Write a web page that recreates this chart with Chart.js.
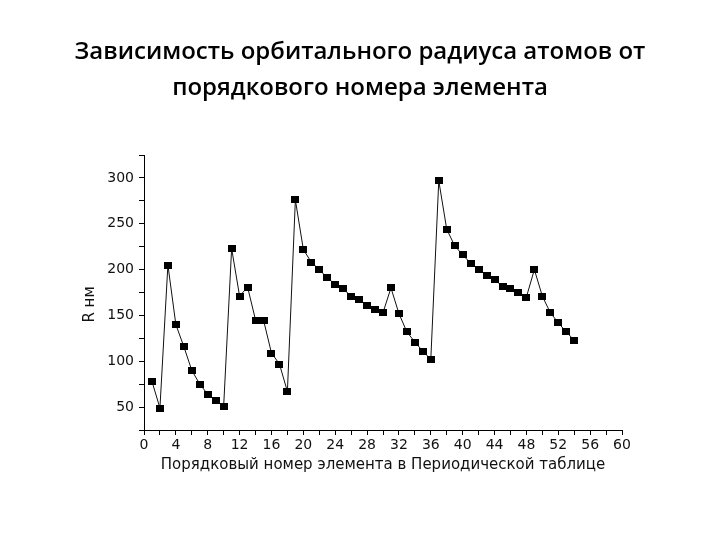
<!DOCTYPE html>
<html>
<head>
<meta charset="utf-8">
<script src="https://cdn.jsdelivr.net/npm/chart.js@4"></script>
<style>
html,body{margin:0;padding:0;background:#fff;}
#wrap{width:720px;height:540px;position:relative;}
</style>
</head>
<body>
<div id="wrap"><canvas id="c" width="720" height="540"></canvas></div>
<script>
const titleLines = ["Зависимость орбитального радиуса атомов от", "порядкового номера элемента"];
const xTitle = "Порядковый номер элемента в Периодической таблице";
const yTitle = "R нм     ";
const atomicNumbers = [1,2,3,4,5,6,7,8,9,10,11,12,13,14,15,16,17,18,19,20,21,22,23,24,25,26,27,28,29,30,31,32,33,34,35,36,37,38,39,40,41,42,43,44,45,46,47,48,49,50,51,52,53,54];
const radii = [78,49,205,140,116,90,75,64,57,51,223,171,181,145,145,109,97,67,276,222,208,200,191,184,179,171,167,161,157,153,180,152,132,121,111,102,297,244,226,216,207,200,194,189,182,179,175,170,200,171,153,142,132,123];
const xTickLabels = [0,4,8,12,16,20,24,28,32,36,40,44,48,52,56,60];
const yTickLabels = [50,100,150,200,250,300];

const marker = document.createElement('canvas');
marker.width = 8; marker.height = 7;
const mctx = marker.getContext('2d');
mctx.fillStyle = '#000';
mctx.fillRect(0,0,8,7);

const points = atomicNumbers.map((z,i)=>({x:z,y:radii[i]}));

new Chart(document.getElementById('c'), {
  type: 'line',
  data: {
    datasets: [{
      data: points,
      borderColor: '#111',
      borderWidth: 1,
      pointStyle: marker,
      pointRadius: 4,
      pointHoverRadius: 4,
      tension: 0,
      fill: false
    }]
  },
  options: {
    responsive: false,
    animation: false,
    events: [],
    layout: { padding: 0 },
    plugins: {
      legend: { display: false },
      tooltip: { enabled: false },
      title: {
        display: true,
        text: titleLines,
        color: '#000',
        font: { family: 'Open Sans', size: 24, weight: '600', lineHeight: 1.5 },
        padding: { top: 34, bottom: 49 }
      }
    },
    scales: {
      x: {
        type: 'linear',
        min: 0, max: 60,
        afterFit: s => { s.height = 110; },
        border: { display: true, color: '#000', width: 1 },
        grid: { display: true, drawOnChartArea: false, drawTicks: true, tickLength: 5, color: '#000' },
        ticks: {
          stepSize: 2,
          autoSkip: false,
          maxRotation: 0,
          padding: 2,
          color: '#111',
          font: { family: 'DejaVu Sans', size: 14 },
          callback: v => xTickLabels.includes(v) ? String(v) : ''
        },
        title: {
          display: true,
          text: xTitle,
          color: '#111',
          font: { family: 'DejaVu Sans', size: 15 },
          padding: { top: 0, bottom: 66 }
        }
      },
      y: {
        type: 'linear',
        min: 25, max: 325,
        afterFit: s => { s.width = 144; },
        border: { display: true, color: '#000', width: 1 },
        grid: { display: true, drawOnChartArea: false, drawTicks: true, tickLength: 5, color: '#000' },
        ticks: {
          stepSize: 25,
          autoSkip: false,
          padding: 5,
          color: '#111',
          font: { family: 'DejaVu Sans', size: 14 },
          callback: v => yTickLabels.includes(v) ? String(v) : ''
        },
        title: {
          display: true,
          text: yTitle,
          color: '#111',
          font: { family: 'DejaVu Sans', size: 15 },
          padding: { top: 81, bottom: 0 }
        }
      },
      rightMargin: {
        type: 'linear',
        position: 'right',
        display: true,
        afterFit: s => { s.width = 98; },
        border: { display: false },
        grid: { display: false, drawTicks: false },
        ticks: { display: false }
      }
    }
  }
});
</script>
</body>
</html>
